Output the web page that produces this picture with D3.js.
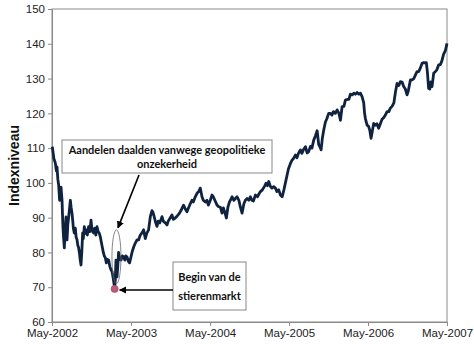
<!DOCTYPE html>
<html><head><meta charset="utf-8">
<script src="https://cdn.jsdelivr.net/npm/d3@7"></script>
<style>html,body{margin:0;padding:0;background:#fff;}svg{display:block;}</style>
</head><body>
<script>
// decimal years and index levels
const times = [2002.333,2002.352,2002.371,2002.384,2002.392,2002.403,2002.413,2002.425,2002.434,2002.443,2002.456,2002.463,2002.468,2002.476,2002.485,2002.495,2002.506,2002.513,2002.519,2002.529,2002.539,2002.548,2002.561,2002.571,2002.582,2002.592,2002.599,2002.611,2002.624,2002.634,2002.646,2002.656,2002.665,2002.675,2002.685,2002.696,2002.706,2002.717,2002.725,2002.738,2002.751,2002.763,2002.776,2002.792,2002.808,2002.823,2002.833,2002.843,2002.856,2002.871,2002.884,2002.899,2002.913,2002.928,2002.941,2002.953,2002.966,2002.979,2002.991,2003.004,2003.017,2003.029,2003.046,2003.061,2003.076,2003.089,2003.101,2003.111,2003.122,2003.130,2003.139,2003.152,2003.162,2003.172,2003.187,2003.203,2003.219,2003.236,2003.251,2003.263,2003.279,2003.295,2003.311,2003.327,2003.342,2003.362,2003.384,2003.405,2003.425,2003.447,2003.468,2003.489,2003.510,2003.529,2003.552,2003.574,2003.595,2003.605,2003.624,2003.643,2003.658,2003.675,2003.694,2003.722,2003.738,2003.763,2003.785,2003.801,2003.827,2003.848,2003.865,2003.890,2003.915,2003.934,2003.953,2003.972,2003.995,2004.017,2004.038,2004.061,2004.080,2004.101,2004.118,2004.143,2004.165,2004.187,2004.206,2004.228,2004.244,2004.270,2004.291,2004.308,2004.333,2004.355,2004.371,2004.390,2004.418,2004.434,2004.460,2004.481,2004.498,2004.517,2004.536,2004.555,2004.574,2004.608,2004.630,2004.649,2004.671,2004.694,2004.713,2004.734,2004.757,2004.776,2004.798,2004.820,2004.839,2004.858,2004.877,2004.903,2004.928,2004.947,2004.966,2004.991,2005.017,2005.036,2005.055,2005.071,2005.092,2005.111,2005.134,2005.156,2005.175,2005.198,2005.219,2005.241,2005.263,2005.282,2005.301,2005.320,2005.346,2005.365,2005.384,2005.409,2005.428,2005.447,2005.472,2005.491,2005.510,2005.536,2005.557,2005.577,2005.599,2005.618,2005.641,2005.662,2005.684,2005.704,2005.719,2005.734,2005.751,2005.770,2005.789,2005.808,2005.830,2005.852,2005.871,2005.890,2005.915,2005.937,2005.960,2005.979,2006.000,2006.023,2006.042,2006.063,2006.086,2006.105,2006.127,2006.149,2006.168,2006.190,2006.213,2006.232,2006.253,2006.274,2006.285,2006.295,2006.317,2006.337,2006.352,2006.367,2006.380,2006.400,2006.422,2006.441,2006.463,2006.485,2006.506,2006.529,2006.548,2006.570,2006.592,2006.611,2006.633,2006.656,2006.675,2006.696,2006.719,2006.738,2006.760,2006.780,2006.801,2006.823,2006.839,2006.865,2006.886,2006.909,2006.928,2006.949,2006.970,2006.991,2007.013,2007.033,2007.048,2007.067,2007.080,2007.096,2007.111,2007.124,2007.139,2007.160,2007.181,2007.200,2007.223,2007.244,2007.263,2007.286,2007.308,2007.329];
const levels = [110.4,107,105.7,103.5,104.6,101,99.4,95,97,98.8,95,90,87,84,81.3,86,90.2,86,83.6,88,90,92,95,93,91.3,89,87,85.6,87,84.5,83.6,82,81.5,80,78,76.4,80,85.6,84,87.4,85.5,86.5,85,87.4,86,89.3,87,86,85.6,87,85,87.4,86,85.5,84.5,83,81.5,80,79,78.5,77,78,77.8,76,75,74.5,73,71.5,69.8,72,77.8,73,76,80,78,77.8,79,78.7,77.8,79,78.7,77.5,77,78.5,80,81.5,82.7,83.6,83.6,85,85.6,86.5,84,85.5,86.5,90.3,92,91.7,90.2,88.5,87.5,89,88.5,90.3,89,88.5,87.9,89,90,90.8,89.5,89.9,90.5,91,91.7,92.5,93.6,92.5,91.7,93,94,95,94.5,96,97,97.5,98.5,96,95,94.5,95,93.6,95,96.5,96,95,93.6,93.2,93,91.3,92.8,91.5,89.9,93,94.5,96,95,95.5,96,95,93,91.3,94,95,95.5,95,96,95,94.8,96.5,96,96.8,97.5,98,99,99.9,99.2,100.4,99,98.5,98.9,98.5,97.5,98,96.5,96,98,100,102,104,105.6,106.5,107,108,107.2,108.5,109.5,108.5,109.5,110.4,108.6,109,110.5,110,112.3,113.5,115,111,110.4,109.5,113,115.5,117.5,118.5,120,120,119.5,120.5,120,121,120,118,121.9,122,123.8,124,124,125.5,125.3,125.8,125.5,126,125.5,125.8,124.8,123,120,118.5,116.6,116.2,115,112.8,114.5,117.1,116.6,117,115.7,117,118.3,118.8,119.5,120.5,120.5,121.5,122,123,126,128.6,128,129.1,129,127.7,127,125.3,126.5,129.6,129.6,130,131,132,132,133,134.4,134.6,134.5,134.6,132,127.2,127,129,127.7,131.5,132,132.5,133.9,134,135,137,138,140.1];
const yTicks = [60,70,80,90,100,110,120,130,140,150];
const xTickLabels = ["May-2002","May-2003","May-2004","May-2005","May-2006","May-2007"];
const xTickDates = ["2002-05-01","2003-05-01","2004-05-01","2005-05-01","2006-05-01","2007-05-01"];
const bottomPoint = {t: 2003.122, v: 69.5};
const ellipseSpec = {t: 2003.145, vTop: 86.5, vBottom: 71};
const note1 = ["Aandelen daalden vanwege geopolitieke", "onzekerheid"];
const note2 = ["Begin van de", "stierenmarkt"];

function decToDate(t){
  const y = Math.floor(t);
  const start = new Date(y,0,1), end = new Date(y+1,0,1);
  return new Date(start.getTime() + (t-y)*(end-start));
}
const parse = d3.timeParse("%Y-%m-%d");
const data = times.map((t,i)=>({date:decToDate(t), v:levels[i]}));

const W=474,H=344;
const m={left:52,right:27,top:9,bottom:22};
const svg=d3.select("body").append("svg").attr("width",W).attr("height",H);
const x=d3.scaleTime().domain([parse(xTickDates[0]),parse(xTickDates[xTickDates.length-1])]).range([m.left,W-m.right]);
const y=d3.scaleLinear().domain([60,150]).range([H-m.bottom,m.top]);

const font="'Liberation Sans', Arial, sans-serif";
const noteFont="Lato, 'Open Sans', sans-serif";
const axisCol="#8a8a8a";

// plot border
svg.append("rect").attr("x",x.range()[0]).attr("y",y(150)).attr("width",x.range()[1]-x.range()[0]).attr("height",y(60)-y(150))
  .attr("fill","none").attr("stroke",axisCol).attr("stroke-width",1);

const yAxis=svg.append("g").attr("transform",`translate(${m.left},0)`)
  .call(d3.axisLeft(y).tickValues(yTicks).tickSize(4).tickPadding(3));
const xAxis=svg.append("g").attr("transform",`translate(0,${H-m.bottom})`)
  .call(d3.axisBottom(x).tickValues(xTickDates.map(parse)).tickFormat((d,i)=>xTickLabels[i]).tickSize(4).tickPadding(3));
[yAxis,xAxis].forEach(g=>{
  g.select(".domain").attr("stroke",axisCol);
  g.selectAll(".tick line").attr("stroke",axisCol);
  g.selectAll("text").attr("font-family",font).attr("font-size",11.5).attr("fill","#222");
});

svg.append("text").attr("transform",`translate(15,${(y(60)+y(150))/2}) rotate(-90)`)
  .attr("text-anchor","middle").attr("dominant-baseline","middle")
  .attr("font-family",font).attr("font-weight","bold").attr("font-size",14).attr("fill","#111").text("Indexniveau");

const line=d3.line().x(d=>x(d.date)).y(d=>y(d.v));
svg.append("path").datum(data).attr("d",line).attr("fill","none")
  .attr("stroke","#0f2340").attr("stroke-width",2.8).attr("stroke-linejoin","round");

// ellipse
const ex=x(decToDate(ellipseSpec.t));
svg.append("ellipse").attr("cx",ex).attr("cy",(y(ellipseSpec.vTop)+y(ellipseSpec.vBottom))/2)
  .attr("rx",4.5).attr("ry",(y(ellipseSpec.vBottom)-y(ellipseSpec.vTop))/2)
  .attr("fill","none").attr("stroke","#666").attr("stroke-width",0.8);

// dot
const bx=x(decToDate(bottomPoint.t)), by=y(bottomPoint.v);
svg.append("circle").attr("cx",bx).attr("cy",by).attr("r",3.6).attr("fill","#c0587a").attr("stroke","#a04866").attr("stroke-width",0.6);

// arrow marker
svg.append("defs").append("marker").attr("id","ah").attr("viewBox","0 0 10 10").attr("refX",9).attr("refY",5)
  .attr("markerWidth",4.5).attr("markerHeight",4.5).attr("orient","auto")
  .append("path").attr("d","M0,0 L10,5 L0,10 z").attr("fill","#000");

// boxes
function box(x0,y0,w,h,lines,lh){
  svg.append("rect").attr("x",x0).attr("y",y0).attr("width",w).attr("height",h)
    .attr("fill","#fff").attr("stroke","#888").attr("stroke-width",1);
  const t=svg.append("text").attr("font-family",noteFont).attr("font-weight","bold").attr("font-size",11).attr("fill","#111").attr("text-anchor","middle");
  lines.forEach((s,i)=>t.append("tspan").attr("x",x0+w/2).attr("y",y0+h/2+(i-(lines.length-1)/2)*lh+4).text(s));
}
box(62,140,210,33,note1,14);
box(173,262,73,48,note2,19);

// arrows
svg.append("line").attr("x1",139).attr("y1",175).attr("x2",ex+1.5).attr("y2",y(ellipseSpec.vTop)-2)
  .attr("stroke","#000").attr("stroke-width",1.6).attr("marker-end","url(#ah)");
svg.append("line").attr("x1",173).attr("y1",by+1).attr("x2",bx+5).attr("y2",by+1)
  .attr("stroke","#000").attr("stroke-width",1.6).attr("marker-end","url(#ah)");
</script>
</body></html>
